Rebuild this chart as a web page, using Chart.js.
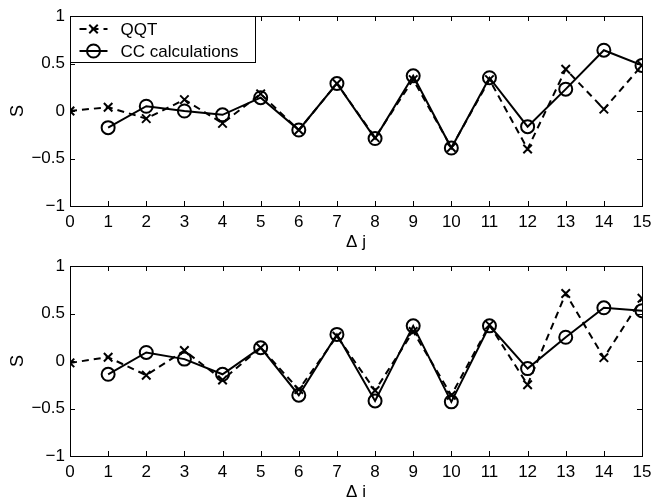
<!DOCTYPE html>
<html>
<head>
<meta charset="utf-8">
<script src="https://cdn.jsdelivr.net/npm/chart.js@4.4.1/dist/chart.umd.min.js"></script>
<style>
  html, body { margin: 0; padding: 0; background: #fff; overflow: hidden; }
  #wrap { position: relative; width: 652px; height: 497px; }
  .pane { position: absolute; left: 0; width: 652px; height: 256px; }
</style>
</head>
<body>
<div id="wrap">
  <div class="pane" style="top:0"><canvas id="topChart"></canvas></div>
  <div class="pane" style="top:250px"><canvas id="bottomChart"></canvas></div>
</div>
<script>
// Δj values along the x axis
const deltaJ = [0, 1, 2, 3, 4, 5, 6, 7, 8, 9, 10, 11, 12, 13, 14, 15];

// upper panel
const qqtTop = [0, 0.04, -0.08, 0.12, -0.13, 0.18, -0.2, 0.29, -0.28, 0.33, -0.385, 0.33, -0.4, 0.44, 0.02, 0.48];
const ccTop = [null, -0.175, 0.05, 0.0, -0.04, 0.14, -0.2, 0.29, -0.29, 0.37, -0.39, 0.35, -0.165, 0.23, 0.64, 0.48];

// lower panel
const qqtBottom = [-0.02, 0.04, -0.15, 0.11, -0.2, 0.14, -0.3, 0.26, -0.31, 0.31, -0.36, 0.38, -0.25, 0.71, 0.035, 0.66];
const ccBottom = [null, -0.14, 0.09, 0.02, -0.14, 0.14, -0.36, 0.28, -0.42, 0.37, -0.43, 0.37, -0.08, 0.25, 0.56, 0.53];

const seriesNames = ["QQT", "CC calculations"];
const xTicks = deltaJ;
const yTicks = [-1, -0.5, 0, 0.5, 1];

const FONT = "'Liberation Sans', Arial, sans-serif";

function toPoints(ys) {
  const pts = [];
  ys.forEach((y, i) => {
    if (y !== null) pts.push({ x: deltaJ[i], y });
  });
  return pts;
}

// box round the plot with ticks pointing inwards on all four sides
const framePlugin = {
  id: "frame",
  afterDatasetsDraw(chart) {
    const { ctx, chartArea: a, scales } = chart;
    const len = 5;
    ctx.save();
    ctx.strokeStyle = "#000";
    ctx.lineWidth = 1;
    ctx.beginPath();
    xTicks.forEach(v => {
      const px = Math.round(scales.x.getPixelForValue(v)) + 0.5;
      ctx.moveTo(px, a.bottom); ctx.lineTo(px, a.bottom - len);
      ctx.moveTo(px, a.top); ctx.lineTo(px, a.top + len);
    });
    yTicks.forEach(v => {
      const py = Math.round(scales.y.getPixelForValue(v)) + 0.5;
      ctx.moveTo(a.left, py); ctx.lineTo(a.left + len, py);
      ctx.moveTo(a.right, py); ctx.lineTo(a.right - len, py);
    });
    ctx.stroke();
    ctx.strokeRect(Math.round(a.left) + 0.5, Math.round(a.top) + 0.5,
      Math.round(a.right - a.left), Math.round(a.bottom - a.top));
    ctx.restore();
  }
};

// MATLAB-style legend box in the top left corner
const boxLegendPlugin = {
  id: "boxLegend",
  afterDraw(chart, args, opts) {
    if (!opts.show) return;
    const { ctx, chartArea: a } = chart;
    const x0 = Math.round(a.left) + 0.5, y0 = Math.round(a.top) + 0.5;
    ctx.save();
    ctx.fillStyle = "#fff";
    ctx.fillRect(x0, y0, 185, 46);
    ctx.strokeStyle = "#000";
    ctx.lineWidth = 1;
    ctx.strokeRect(x0, y0, 185, 46);
    chart.data.datasets.forEach((ds, i) => {
      const cy = y0 + 12.5 + i * 22;
      ctx.strokeStyle = "#000";
      ctx.lineWidth = 2;
      ctx.setLineDash(ds.borderDash || []);
      ctx.beginPath();
      ctx.moveTo(x0 + 9, cy);
      ctx.lineTo(x0 + 37, cy);
      ctx.stroke();
      ctx.setLineDash([]);
      ctx.fillStyle = "rgba(0,0,0,0)";
      Chart.helpers.drawPoint(ctx, {
        pointStyle: ds.pointStyle,
        radius: ds.pointRadius,
        borderWidth: 2
      }, x0 + 23, cy);
      ctx.fillStyle = "#000";
      ctx.font = "17px " + FONT;
      ctx.textBaseline = "middle";
      ctx.fillText(ds.label, x0 + 50, cy + 1);
    });
    ctx.restore();
  }
};

function makeChart(id, qqt, cc, withLegend) {
  return new Chart(document.getElementById(id), {
    type: "line",
    data: {
      datasets: [
        {
          label: seriesNames[0],
          data: toPoints(qqt),
          borderColor: "#000",
          backgroundColor: "#000",
          borderWidth: 2,
          borderDash: [7, 5],
          pointStyle: "crossRot",
          pointRadius: 6,
          pointBorderWidth: 2,
          tension: 0,
          order: 2
        },
        {
          label: seriesNames[1],
          data: toPoints(cc),
          borderColor: "#000",
          backgroundColor: "rgba(0,0,0,0)",
          borderWidth: 2,
          pointStyle: "circle",
          pointRadius: 6.5,
          pointBorderWidth: 2,
          tension: 0,
          order: 1
        }
      ]
    },
    options: {
      responsive: true,
      maintainAspectRatio: false,
      animation: false,
      layout: { padding: { top: 16, right: 10, left: 0, bottom: 0 } },
      plugins: {
        legend: { display: false },
        tooltip: { enabled: false },
        boxLegend: { show: withLegend }
      },
      scales: {
        x: {
          type: "linear",
          min: 0,
          max: 15,
          afterFit: s => { s.height = 50; s.paddingLeft = 0; s.paddingRight = 0; },
          afterBuildTicks: s => { s.ticks = xTicks.map(v => ({ value: v })); },
          grid: { display: false, drawTicks: false },
          border: { display: false },
          ticks: {
            color: "#000",
            font: { family: FONT, size: 17 },
            padding: 6,
            maxRotation: 0,
            autoSkip: false
          },
          title: {
            display: true,
            text: "Δ j",
            color: "#000",
            font: { family: FONT, size: 17 },
            padding: { top: 0, bottom: 3 }
          }
        },
        y: {
          min: -1,
          max: 1,
          afterFit: s => { s.width = 70; },
          afterBuildTicks: s => { s.ticks = yTicks.map(v => ({ value: v })); },
          grid: { display: false, drawTicks: false },
          border: { display: false },
          ticks: {
            color: "#000",
            font: { family: FONT, size: 17 },
            padding: 5,
            callback: v => String(v).replace("-", "\u2212")
          },
          title: {
            display: true,
            text: "S",
            color: "#000",
            font: { family: FONT, size: 18 },
            padding: { top: 7, bottom: 0 }
          }
        }
      }
    },
    plugins: [framePlugin, boxLegendPlugin]
  });
}

makeChart("topChart", qqtTop, ccTop, true);
makeChart("bottomChart", qqtBottom, ccBottom, false);
</script>
</body>
</html>
